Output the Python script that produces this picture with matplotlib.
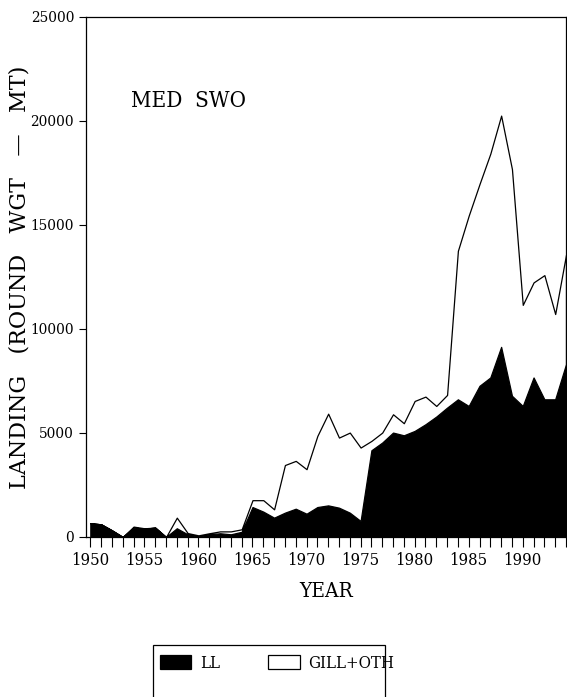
import matplotlib
matplotlib.use("Agg")
import matplotlib.pyplot as plt
from matplotlib import font_manager as fm
from matplotlib.patches import Rectangle
from matplotlib.ticker import MultipleLocator

# landings by year (round weight, MT)
years = list(range(1950, 1995))
ll = [660, 610, 320, 0, 450, 400, 450, 0, 420, 130,
      20, 130, 180, 130, 250, 1440, 1220, 930, 1170, 1360,
      1120, 1440, 1520, 1410, 1170, 770, 4170, 4540, 5020, 4890,
      5100, 5420, 5790, 6220, 6620, 6300, 7270, 7670, 9140, 6790,
      6300, 7670, 6620, 6620, 8310]
gill_oth = [0, 0, 0, 0, 50, 20, 0, 0, 510, 60,
            60, 50, 90, 140, 120, 330, 550, 400, 2290, 2300,
            2140, 3420, 4410, 3370, 3850, 3530, 450, 480, 880, 580,
            1440, 1330, 510, 610, 7140, 9150, 9700, 10760, 11120, 10900,
            4860, 4570, 5970, 4100, 5260]
series_names = ["LL", "GILL+OTH"]
y_ticks = [0, 5000, 10000, 15000, 20000, 25000]

# narrow serif for the tick labels, like the scanned original
cond = [f.fname for f in fm.fontManager.ttflist
        if "Condensed" in f.fname and "Serif" in f.fname
        and "Bold" not in f.fname and "Italic" not in f.fname and "Oblique" not in f.fname]
if cond:
    def narrow(size):
        return fm.FontProperties(fname=cond[0], size=size)
else:
    def narrow(size):
        return fm.FontProperties(family="Liberation Serif", size=size)

fig = plt.figure(figsize=(5.67, 6.97), dpi=100)
ax = fig.add_axes([86 / 567, 1 - 537 / 697, 480 / 567, 520 / 697])

polys = ax.stackplot(years, ll, gill_oth, colors=["black", "white"],
                     edgecolor="black", linewidth=0.9, labels=series_names)

ax.set_xlim(1949.6, 1994)
ax.set_ylim(0, 25000)
ax.set_yticks(y_ticks)
ax.xaxis.set_major_locator(MultipleLocator(5))
ax.xaxis.set_minor_locator(MultipleLocator(1))
ax.set_xticks([1950, 1955, 1960, 1965, 1970, 1975, 1980, 1985, 1990])

ax.tick_params(axis="x", which="both", direction="out", length=7, width=0.8)
ax.tick_params(axis="y", direction="out", length=5, width=0.8)
for lab in ax.get_xticklabels():
    lab.set_fontproperties(narrow(12))
for lab in ax.get_yticklabels():
    lab.set_fontproperties(narrow(11))
for sp in ax.spines.values():
    sp.set_linewidth(0.9)

ax.set_xlabel("YEAR", fontproperties=narrow(15), labelpad=10)
ax.set_ylabel("LANDING   (ROUND   WGT   \u2014   MT)", family="DejaVu Serif",
              fontsize=16)
ax.yaxis.set_label_coords(-0.115, 0.5)

ax.text(0.094, 0.838, "MED  SWO", transform=ax.transAxes,
        fontproperties=narrow(16), va="center", ha="left")

# legend box (bottom edge runs off the page in the original)
fig.add_artist(Rectangle((153 / 567, 1 - 740 / 697), 232 / 567, 95 / 697,
                         transform=fig.transFigure, fill=False,
                         edgecolor="black", linewidth=0.9))
fig.legend(handles=polys, labels=series_names, loc="upper left",
           bbox_to_anchor=(148 / 567, 1 - 643 / 697), ncol=2, frameon=False,
           prop=narrow(12), handlelength=1.9, handleheight=0.9,
           handletextpad=0.5, columnspacing=2.9, borderpad=0.2)

fig.savefig("out.png", dpi=100)
